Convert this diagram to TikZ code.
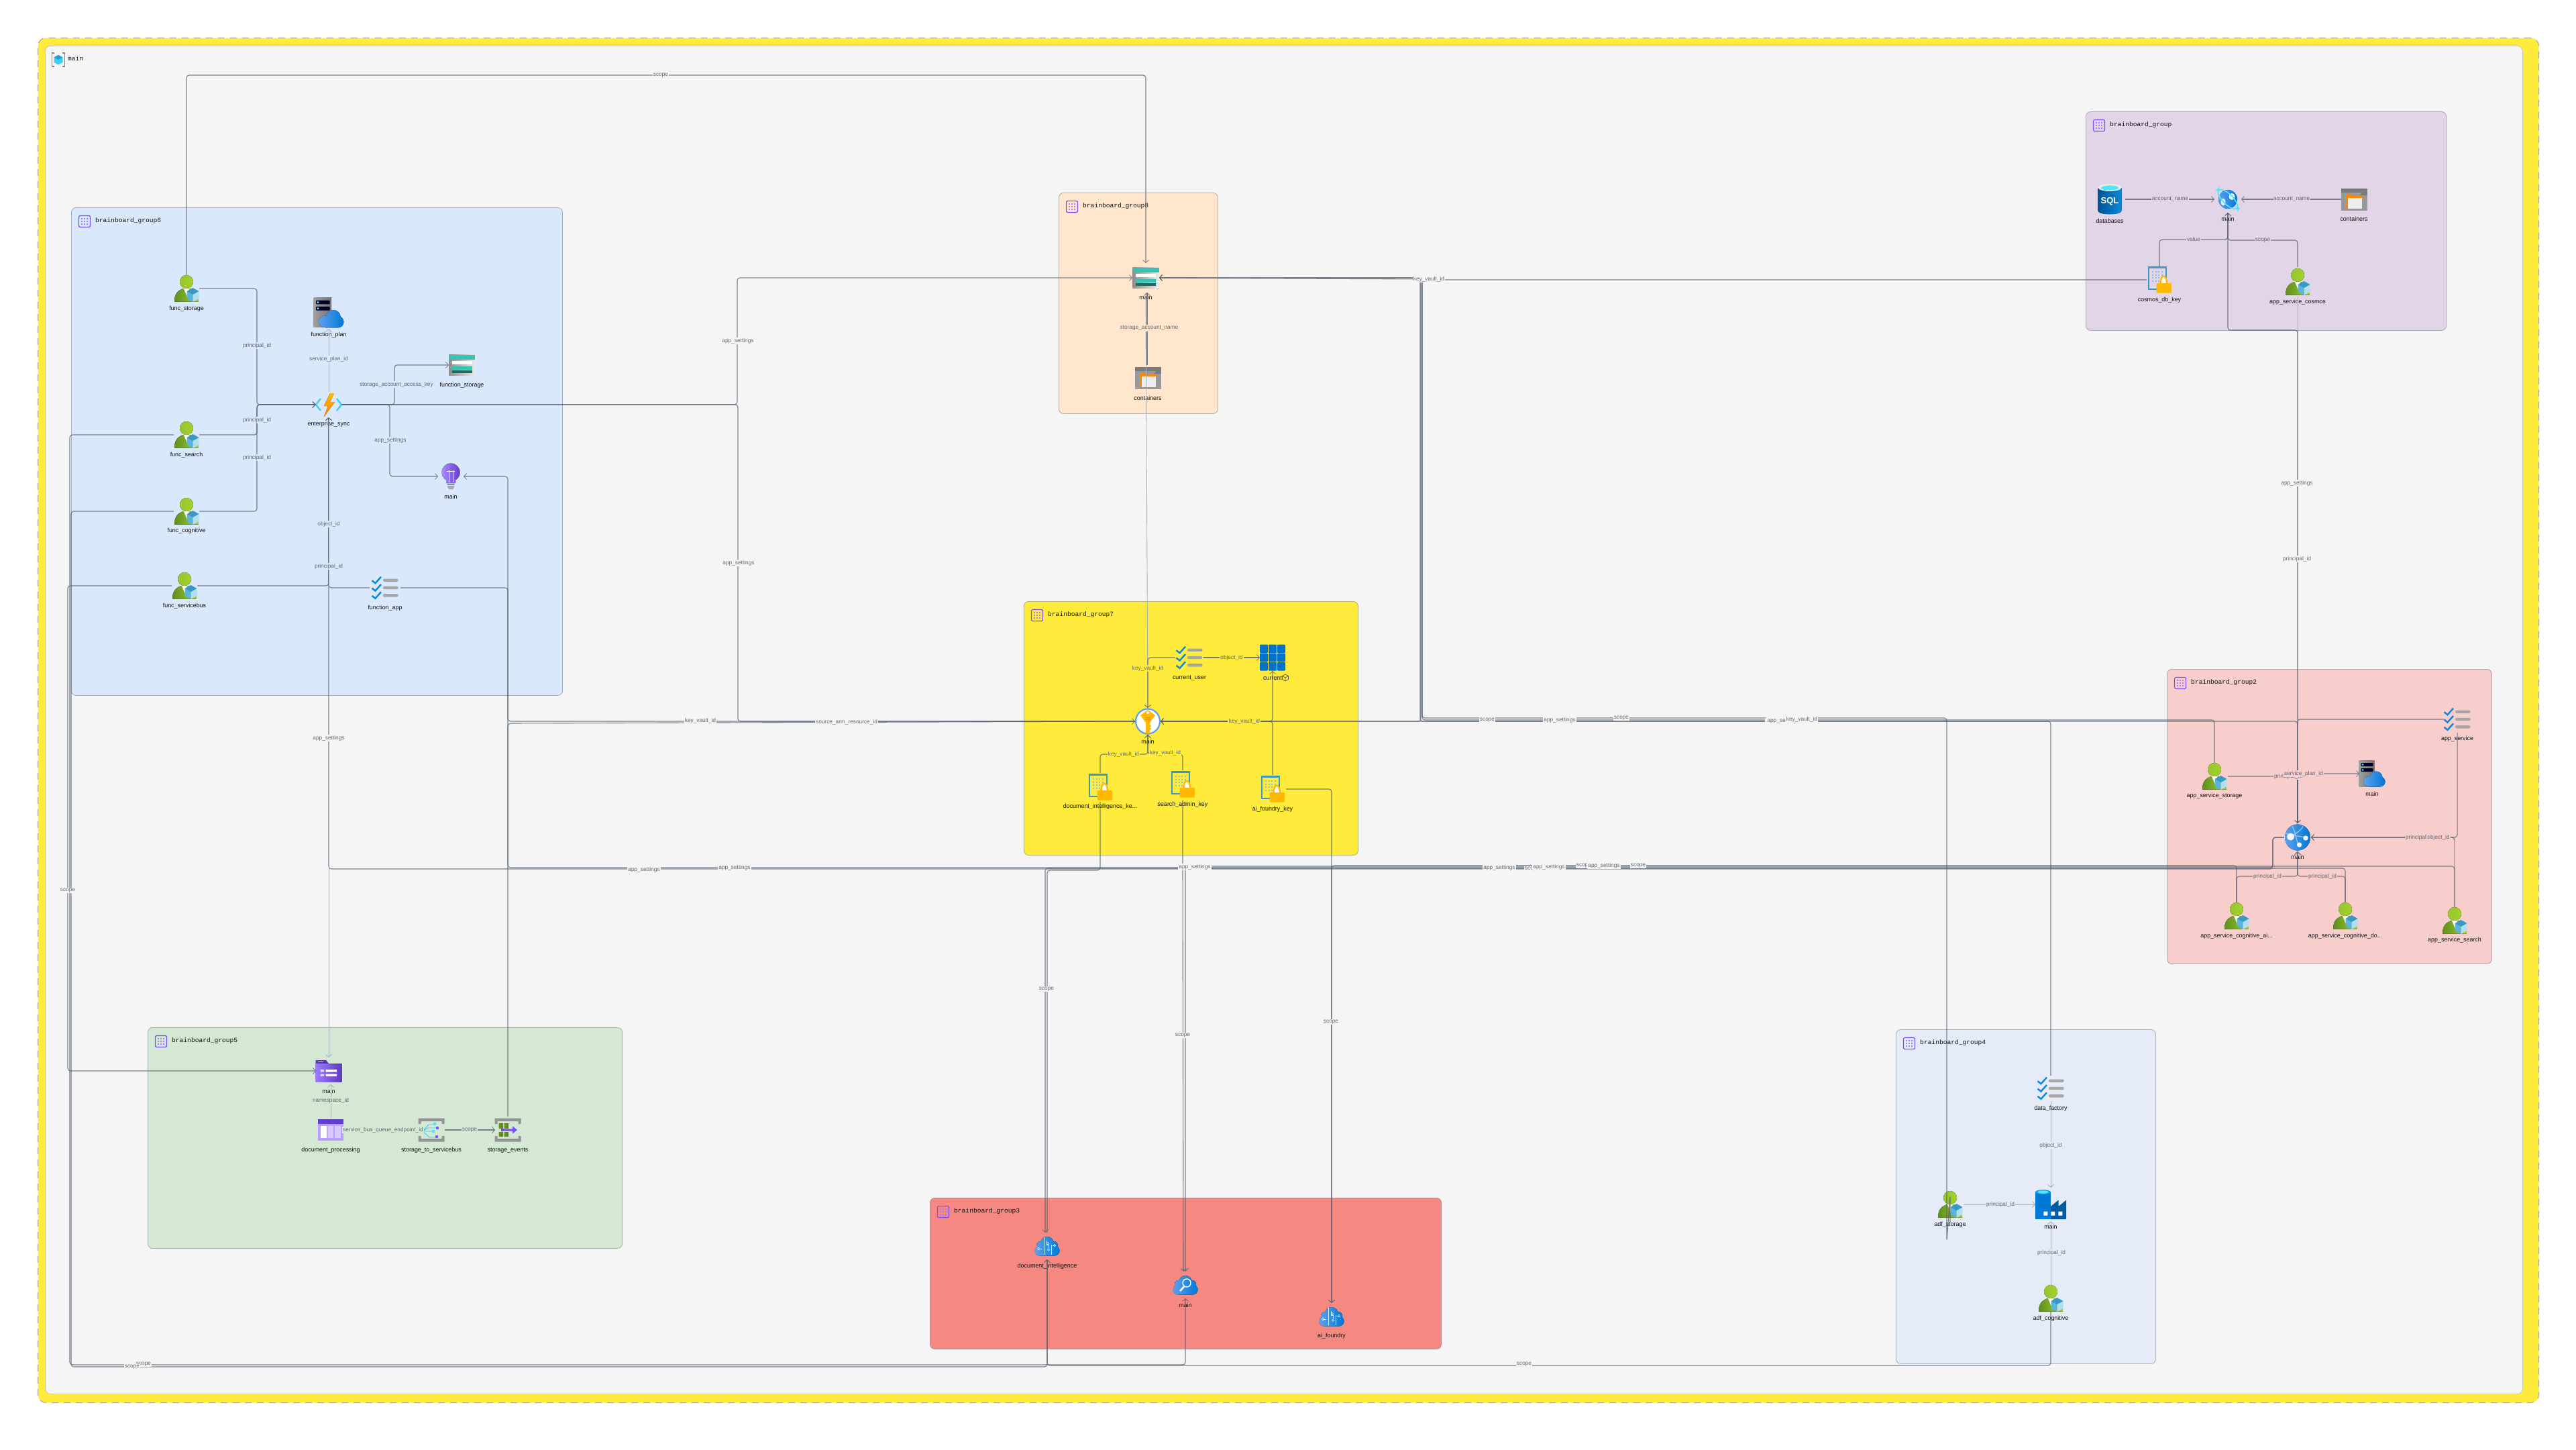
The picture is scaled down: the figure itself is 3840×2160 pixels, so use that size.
\documentclass[tikz,border=0pt]{standalone}
\usepackage{fontspec}
\setmainfont{Liberation Sans}
\setmonofont{Liberation Mono}
\usetikzlibrary{arrows.meta}
\definecolor{bgf}{HTML}{F5F5F5}
\definecolor{yel}{HTML}{FFEB3B}
\definecolor{gsix}{HTML}{DAE8FC}
\definecolor{geight}{HTML}{FFE6CC}
\definecolor{gseven}{HTML}{FFEB3B}
\definecolor{gfive}{HTML}{D5E8D4}
\definecolor{gthree}{HTML}{F58880}
\definecolor{gtwo}{HTML}{F8CECC}
\definecolor{gfour}{HTML}{E5ECF7}
\definecolor{gone}{HTML}{E1D5E7}
\definecolor{lnc}{HTML}{4F5B6B}
\definecolor{lnl}{HTML}{A3AEBB}
\definecolor{lbc}{HTML}{5F6773}
\definecolor{nmc}{HTML}{111111}
\definecolor{vio}{HTML}{7C4DFF}
\definecolor{azb}{HTML}{0078D4}
\definecolor{azl}{HTML}{5EA0EF}
\definecolor{cya}{HTML}{50E6FF}
\definecolor{amb}{HTML}{FFB900}
\definecolor{kvb}{HTML}{3999C6}
\definecolor{tl}{HTML}{37C2B1}
\definecolor{grm}{HTML}{A6A6A6}
\definecolor{pdk}{HTML}{5E8F1E}
\definecolor{plt}{HTML}{A2D02F}
\definecolor{cbl}{HTML}{5BB4DC}
\definecolor{cbp}{HTML}{B4DDEE}
\tikzset{
  grp/.style={draw=#1!78!black!45!lnl,line width=0.9pt,rounded corners=7pt,inner sep=0pt,anchor=north west},
  gtitle/.style={font=\fontsize{9.6}{11}\selectfont\ttfamily,text=nmc,anchor=west,inner sep=0pt},
  ibox/.style={inner sep=0pt,outer sep=0pt},
  nlab/.style={font=\fontsize{8.9}{10}\selectfont,text=nmc,inner sep=0pt},
  elabel/.style={font=\fontsize{8.3}{10}\selectfont,text=lbc,inner sep=1.2pt},
  cn/.style={draw=lnc,line width=1.1pt,draw opacity=.75,rounded corners=4pt,-{Straight Barb[length=4pt,width=9pt,line width=.8pt]}},
  cnn/.style={cn,-},
  cl/.style={draw=lnl,line width=.9pt,rounded corners=4pt,-{Straight Barb[length=4pt,width=9pt,line width=.8pt]}},
  cln/.style={cl,-},
}
% ---------- icons, drawn round (0,0) with y pointing down, 1 unit = 1 reference pixel
\newcommand{\icperson}{%
  \fill[left color=pdk,right color=plt] (-18,19.5) .. controls (-18,8) and (-13,3) .. (-5,0) -- (5,0) .. controls (13,3) and (18,8) .. (18,19.5) -- cycle;
  \fill[white] (-4.5,-1) -- (4.5,-1) -- (1,12) -- cycle;
  \fill[left color=plt!85!pdk,right color=plt] (0,-10) ellipse [x radius=10pt,y radius=10pt];
  \fill[cbl] (0.5,4) -- (9.5,9) -- (9.5,20) -- (0.5,15) -- cycle;
  \fill[cbp] (18.5,4) -- (9.5,9) -- (9.5,20) -- (18.5,15) -- cycle;
  \fill[kvb] (9.5,-1) -- (18.5,4) -- (9.5,9) -- (0.5,4) -- cycle;
}
\newcommand{\icchecks}{%
  \foreach \yy in {-11.3,0,11.3}{
    \draw[color=azb!85!cya,line width=2.4pt] (-19.5,\yy+.5) -- (-14.5,\yy+4.5) -- (-6,\yy-5);
    \fill[grm,rounded corners=1.5pt] (-3,\yy-2.2) rectangle (19.5,\yy+2.2);
  }
}
\newcommand{\ickey}{%
  \draw[kvb,line width=2.2pt] (-16,-18.5) rectangle (10,14);
  \foreach \xx in {-11,-6.5,-2,2.5}\foreach \yy in {-13,-8.5,-4,.5}{\fill[kvb!60!white] (\xx,\yy) rectangle ++(2.4,2.4);}
  \draw[amb,line width=2.4pt,fill=white] (1.5,6) .. controls (1.5,-9) and (11,-9) .. (11,6);
  \fill[amb,rounded corners=1.5pt] (-4.5,5) rectangle (18,19.7);
}
\newcommand{\icstorage}{%
  \fill[left color=grm!85!black,right color=white!92!black] (-19.5,-15.5) rectangle (19.5,15.5);
  \fill[tl] (-19.5,-15.5) rectangle (19.5,-8.5);
  \fill[white] (-15,-6) rectangle (15,-.8);
  \fill[tl] (-15,1.8) rectangle (15,6.6);
  \fill[tl!55!black] (-15,8) rectangle (15,12.2);
}
\newcommand{\iccontainers}{%
  \fill[grm!92!black] (-19.5,-16.5) rectangle (19.5,16.5);
  \fill[black!52] (-19.5,-16.5) rectangle (19.5,-10.5);
  \fill[black!52] (19.5,-16.5) -- (19.5,-6) -- (9,-6) -- (13,-10.5) -- cycle;
  \fill[orange!95!yellow] (-12,-8) -- (-4,-8) -- (-2,-5) -- (12,-5) -- (12,14) -- (-12,14) -- cycle;
  \fill[white!93!black] (-9.5,-2.5) rectangle (12,14);
}
\newcommand{\icplan}{%
  \fill[left color=black!38,right color=black!55] (-19.5,-19.5) rectangle (3.5,19);
  \foreach \yy in {-16,-8}{\fill[black!85!blue,rounded corners=1pt] (-16.5,\yy) rectangle (1.5,\yy+5);\fill[cya] (-14,\yy+2.5) circle[radius=1.5pt];}
  \fill[left color=azl,right color=azb] (-5,11.5) circle[radius=7.5pt] (6,6) circle[radius=9.5pt] (12,12) circle[radius=7.5pt] (-5,12) rectangle (12,19.5);
}
\newcommand{\icfunc}{%
  \draw[cya!80!azb,line width=2.4pt,line join=miter] (-12,-9) -- (-19,0) -- (-12,9);
  \draw[cya!80!azb,line width=2.4pt,line join=miter] (12,-9) -- (19,0) -- (12,9);
  \fill[top color=amb,bottom color=orange] (2,-17) -- (-7,2) -- (-1,2) -- (-7,18) -- (9,-4) -- (2,-4) -- (8,-17) -- cycle;
}
\newcommand{\icbulb}{%
  \fill[left color=vio!65!white,right color=vio!80!black] (0,-6) circle[radius=13.5pt] (-6.5,3) rectangle (6.5,10);
  \fill[black!45] (-5.5,11) rectangle (5.5,13) (-5,14.5) rectangle (5,16.5) (-3.5,17.5) rectangle (3.5,19);
  \draw[white,line width=1pt] (-3,-9) -- (-3,9) (3,-9) -- (3,9) (-6,-8) -- (6,-8);
}
\newcommand{\icfolder}{%
  \fill[vio!70!black] (-19.5,-16) -- (-4,-16) -- (0,-11) -- (0,0) -- (-19.5,0) -- cycle;
  \fill[left color=vio!75!white,right color=vio!75!black] (-19.5,-10.5) -- (19.5,-10.5) -- (19.5,16) -- (-19.5,16) -- cycle;
  \fill[white!70!vio] (-16,-14.5) rectangle (-8,-13);
  \fill[white!75!vio] (-12.5,-2) rectangle (-7,1.5) (-12.5,4.5) rectangle (-7,8);
  \fill[white] (-4.5,-2) rectangle (12,1.5) (-4.5,4.5) rectangle (12,8);
}
\newcommand{\icqueue}{%
  \fill[vio!55!white] (-19,-16) rectangle (19,16);
  \fill[vio!80!black] (-19,-16) rectangle (19,-8.7);
  \fill[white] (-15,-6) rectangle (-6,12);
  \fill[white!70!vio] (-4.5,-6) rectangle (4,12) (6,-6) rectangle (15,12);
}
\newcommand{\icbrackets}{%
  \fill[black!42] (-19.5,-17.5) rectangle (19.5,-13) (-19.5,-17.5) rectangle (-15.5,-9) (15.5,-17.5) rectangle (19.5,-9);
  \fill[black!42] (-19.5,13) rectangle (19.5,17.5) (-19.5,9) rectangle (-15.5,17.5) (15.5,9) rectangle (19.5,17.5);
}
\newcommand{\icnetwork}{%
  \icbrackets
  \draw[cya!75!azb,line width=.9pt] (-13,2) -- (-4,-8) -- (4,-8) (-13,2) -- (-5,-3) -- (8,-3) (-13,2) -- (-5,2) -- (3,2) (-13,2) -- (-3,11) -- (8,11);
  \fill[cya] (5,-9) circle[radius=2.6pt] (3,2) circle[radius=2.6pt];
  \fill[vio] (9,-3) circle[radius=2.2pt] (8,10) circle[radius=2.2pt];
}
\newcommand{\icevents}{%
  \icbrackets
  \fill[pdk] (-13.5,-10) rectangle (-7,-2) (-5.5,-10) rectangle (1,-2) (-13.5,3) rectangle (-7,10) (-5.5,3) rectangle (1,10);
  \fill[vio] (-8,-1.5) rectangle (7,1.5) (7,-5.5) -- (14,0) -- (7,5.5) -- cycle (-8,0) circle[radius=2.4pt];
}
\newcommand{\ickv}{%
  \fill[white] (0,0) ellipse [x radius=18pt,y radius=18.5pt];
  \draw[azl,line width=2.2pt] (0,0) ellipse [x radius=18pt,y radius=18.5pt];
  \fill[amb] (0,-17) -- (11,-9) -- (3,2) -- (3,5) -- (5,7) -- (3,9) -- (5,11) -- (3,13) -- (3,18) -- (-3,18) -- (-3,2) -- (-11,-9) -- cycle;
  \fill[white] (0,-13) circle[radius=2pt];
  \fill[orange] (-4,-6) rectangle (4,-5) (-4,-3.5) rectangle (4,-2.5);
}
\newcommand{\icgrid}{%
  \foreach \xx in {-19,-5.9,7.2}\foreach \yy in {-19.5,-6.3,6.9}{\fill[azb!95!black,rounded corners=1pt] (\xx,\yy) rectangle ++(11.8,12.6);}
}
\newcommand{\iccosmos}{%
  \fill[left color=azl,right color=azb] (0,0) circle[radius=14pt];
  \fill[white!90!azb] (-7,4) ellipse [x radius=3.5pt,y radius=5.5pt] (6,-4) ellipse [x radius=4.5pt,y radius=5pt];
  \draw[cya,line width=1.7pt,rotate=-45] (0,0) ellipse [x radius=19pt,y radius=7.5pt];
  \fill[cya] (-14,-19) -- (-12.5,-15) -- (-9,-14) -- (-12.5,-12.5) -- (-14,-9) -- (-15.5,-12.5) -- (-19,-14) -- (-15.5,-15) -- cycle;
  \fill[cya] (15,9) -- (16.2,13) -- (19,14) -- (16.2,15.2) -- (15,19) -- (13.8,15.2) -- (11,14) -- (13.8,13) -- cycle;
}
\newcommand{\icsql}{%
  \fill[left color=azb!70!black,right color=azb!85!cya] (-17.5,-17) -- (17.5,-17) -- (17.5,17) .. controls (17.5,24) and (-17.5,24) .. (-17.5,17) -- cycle;
  \fill[white!92!black] (0,-17.5) ellipse [x radius=17.5pt,y radius=5.5pt];
  \fill[cya] (0,-17) ellipse [x radius=13pt,y radius=3.6pt];
  \node[ibox,font=\bfseries\fontsize{13}{13}\selectfont,text=white] (sqlmark) at (0,3) {SQL};
}
\newcommand{\icglobe}{%
  \fill[left color=azl,right color=azb] (0,0) ellipse [x radius=19pt,y radius=19.5pt];
  \draw[white!55!azl,line width=1.2pt,opacity=.8] (-8,-17) .. controls (-2,-6) and (-2,8) .. (2,11) (-18,-6) .. controls (-6,-2) and (6,-2) .. (14,1) (8,-17) .. controls (6,-10) and (-6,-4) .. (-11,-1);
  \fill[white!95!azb] (-10.5,-1) circle[radius=5.5pt] (12,1) circle[radius=3.7pt] (2.5,11) circle[radius=3.7pt];
}
\newcommand{\icfactory}{%
  \fill[azb!75!black] (0,22) -- (0,3) -- (11.5,-6.5) -- (11.5,3) -- (23,-6.5) -- (23,22) -- cycle;
  \fill[azb] (-23,-18) rectangle (0,22);
  \fill[azb!70!cya] (-11.5,-18.5) ellipse [x radius=11.5pt,y radius=3.5pt];
  \fill[cya] (-11.5,-18.5) ellipse [x radius=8pt,y radius=2.2pt];
  \fill[white] (-10.7,10.5) rectangle ++(6,6) (.3,10.5) rectangle ++(6,6) (11.3,10.5) rectangle ++(6,6);
}
\newcommand{\iccloud}{%
  \fill[left color=azl,right color=azb] (-11,7) circle[radius=7.5pt] (11,7) circle[radius=7.5pt] (0,-4) circle[radius=10pt] (-10,-1) circle[radius=6pt] (10,-1) circle[radius=6pt] (-11,5) rectangle (11,14.5);
}
\newcommand{\iccog}{%
  \iccloud
  \draw[white!60!cya,line width=.6pt] (-5,-13) -- (-5,13) (6,-2) -- (6,13) (-1,-8) -- (-1,-2) -- (2,-2) -- (2,3) (-13,4) -- (-8,4) (8,-1) -- (11,-1);
  \draw[white!70!cya,line width=.6pt] (1,-4) circle[radius=1.8pt] (2,5.5) circle[radius=1.8pt] (-13,4) circle[radius=1.8pt] (11,-1) circle[radius=1.8pt];
}
\newcommand{\icsearch}{%
  \iccloud
  \draw[white,line width=1.4pt] (2,-3) circle[radius=6pt];
  \draw[white,line width=2.6pt] (-2,2.5) -- (-8,9);
}
\newcommand{\icmain}{%
  \draw[black!48,line width=1.3pt] (-6,-10) -- (-9.5,-10) -- (-9.5,10) -- (-6,10) (6,-10) -- (9.5,-10) -- (9.5,10) -- (6,10);
  \fill[cya!80!azb] (0,-7) -- (6.5,-3.5) -- (6.5,4) -- (0,7.5) -- (-6.5,4) -- (-6.5,-3.5) -- cycle;
  \fill[azb!65!cya] (0,-7) -- (6.5,-3.5) -- (0,0) -- (-6.5,-3.5) -- cycle;
}
\newcommand{\grpicon}[2]{%
  \begin{scope}[shift={(#1,#2)}]
    \draw[vio,line width=1.1pt,rounded corners=1.5pt] (-8.5,-8.5) rectangle (8.5,8.5);
    \foreach \xx in {-4,0,4}\foreach \yy in {-4,0,4}{\fill[vio!70!white] (\xx-.6,\yy-.6) rectangle (\xx+.6,\yy+.6);}
  \end{scope}}
\newcommand{\inode}[8]{%
  \begin{scope}[shift={(#2,#3)}]#6\end{scope}
  \node[ibox,minimum width=#4pt,minimum height=#5pt] (#1) at (#2,#3) {};
  \node[nlab] (#1-t) at (#2,#8+.6) {#7};}
\newcounter{elabn}
\newcommand{\elab}[4][bgf]{%
  \stepcounter{elabn}\node[elabel,fill=#1] (el\arabic{elabn}) at (#2,#3) {#4};}
\newcommand{\gnode}[7]{%
  \node[grp=#6,fill=#6,minimum width=#4pt,minimum height=#5pt] (#1) at (#2,#3) {};
  \grpicon{\the\numexpr#2+20\relax}{\the\numexpr#3+21\relax}
  \node[gtitle] (#1-t) at (\the\numexpr#2+36\relax,\the\numexpr#3+20\relax) {#7};}
\begin{document}
\begin{tikzpicture}[x=1pt,y=-1pt]
\useasboundingbox (0,0) rectangle (3840,2160);
\fill[white] (0,0) rectangle (3840,2160);
% frame
\node[draw=black!35,dashed,line width=1pt,dash pattern=on 10pt off 8pt,fill=yel,rounded corners=12pt,inner sep=0pt,minimum width=3728pt,minimum height=2034pt,anchor=north west] (frame) at (56,56) {};
\node[draw=black!22,line width=.8pt,fill=bgf,rounded corners=8pt,inner sep=0pt,minimum width=3693pt,minimum height=2009pt,anchor=north west] (inner) at (67,68) {};
\begin{scope}[shift={(87,89)}]\icmain\end{scope}
\node[gtitle] (main-t) at (101,87) {main};
% groups
\gnode{gsix}{106}{309}{732}{727}{gsix}{brainboard\_group6}
\gnode{gegt}{1578}{287}{237}{329}{geight}{brainboard\_group8}
\gnode{gsvn}{1526}{896}{498}{378}{gseven}{brainboard\_group7}
\gnode{gfiv}{220}{1531}{707}{329}{gfive}{brainboard\_group5}
\gnode{gthr}{1386}{1785}{762}{225}{gthree}{brainboard\_group3}
\gnode{gtwo}{3230}{997}{484}{439}{gtwo}{brainboard\_group2}
\gnode{gfou}{2826}{1534}{387}{498}{gfour}{brainboard\_group4}
\gnode{gone}{3109}{166}{537}{326}{gone}{brainboard\_group}
% resources: group 6
\inode{fstor}{278}{430}{38}{40}{\icperson}{func\_storage}{460}
\inode{fsearch}{278}{648}{38}{40}{\icperson}{func\_search}{678}
\inode{fcog}{278}{762}{38}{40}{\icperson}{func\_cognitive}{791}
\inode{fbus}{275}{873}{38}{40}{\icperson}{func\_servicebus}{903}
\inode{fplan}{490}{466}{46}{48}{\begin{scope}[scale=1.15]\icplan\end{scope}}{function\_plan}{499}
\inode{fstorage}{688.5}{544}{39}{36}{\icstorage}{function\_storage}{574}
\inode{esync}{490}{603}{39}{38}{\icfunc}{enterprise\_sync}{632}
\inode{insights}{672}{710}{38}{42}{\icbulb}{main}{740}
\inode{fapp}{574}{876}{46}{36}{\icchecks}{function\_app}{906}
% group 8
\inode{smain}{1708}{414}{40}{44}{\icstorage}{main}{443}
\inode{sconts}{1711}{563}{39}{38}{\iccontainers}{containers}{593}
% group 7
\inode{kv}{1711}{1075}{38}{40}{\ickv}{main}{1105}
\inode{curuser}{1773}{980}{42}{34}{\icchecks}{current\_user}{1010}
\inode{current}{1897}{980}{38}{40}{\icgrid}{current\hspace{14pt}}{1010}
\inode{dkey}{1640}{1173}{38}{42}{\ickey}{document\_intelligence\_ke...}{1202}
\inode{skey}{1763}{1169}{38}{42}{\ickey}{search\_admin\_key}{1199}
\inode{aifkey}{1897}{1176}{40}{42}{\ickey}{ai\_foundry\_key}{1206}
\begin{scope}[shift={(1916,1010)}]
  \draw[black!70,line width=.6pt] (0,-5) -- (4.5,-2.5) -- (4.5,2.5) -- (0,5) -- (-4.5,2.5) -- (-4.5,-2.5) -- cycle (-4.5,-2.5) -- (0,0) -- (4.5,-2.5) (0,0) -- (0,5);
\end{scope}
% group 5
\inode{sbmain}{490}{1596}{38}{40}{\icfolder}{main}{1626}
\inode{docproc}{493}{1684}{38}{38}{\icqueue}{document\_processing}{1714}
\inode{s2sb}{643}{1684}{40}{38}{\icnetwork}{storage\_to\_servicebus}{1714}
\inode{sevents}{757}{1684}{38}{40}{\icevents}{storage\_events}{1714}
% group 3
\inode{docai}{1561}{1857}{40}{40}{\iccog}{document\_intelligence}{1887}
\inode{search}{1767}{1915}{40}{40}{\icsearch}{main}{1945}
\inode{aifoundry}{1985}{1962}{40}{40}{\iccog}{ai\_foundry}{1991}
% group 4
\inode{adfstor}{2907}{1795}{40}{42}{\icperson}{adf\_storage}{1825}
\inode{factory}{3057}{1795}{46}{50}{\icfactory}{main}{1828}
\inode{dfapp}{3057}{1622}{42}{38}{\icchecks}{data\_factory}{1652}
\inode{adfcog}{3057}{1935}{38}{40}{\icperson}{adf\_cognitive}{1965}
% group 1
\inode{sql}{3145}{297}{46}{46}{\icsql}{databases}{329}
\inode{cosmos}{3321}{297}{40}{40}{\iccosmos}{main}{326}
\inode{cconts}{3509}{297}{38}{36}{\iccontainers}{containers}{326}
\inode{ckey}{3219}{417}{38}{40}{\ickey}{cosmos\_db\_key}{447}
\inode{ascos}{3425}{420}{38}{44}{\icperson}{app\_service\_cosmos}{450}
% group 2
\inode{appsvc}{3663}{1072}{40}{40}{\icchecks}{app\_service}{1101}
\inode{asstor}{3301}{1157}{40}{40}{\icperson}{app\_service\_storage}{1186}
\inode{plan}{3536}{1153}{38}{40}{\icplan}{main}{1183}
\inode{appmain}{3425}{1248}{40}{42}{\icglobe}{main}{1277}
\inode{casai}{3334}{1365}{38}{40}{\icperson}{app\_service\_cognitive\_ai...}{1395}
\inode{casdo}{3496}{1365}{38}{40}{\icperson}{app\_service\_cognitive\_do...}{1395}
\inode{assearch}{3659}{1372}{38}{40}{\icperson}{app\_service\_search}{1401}
% connectors: group 6
\draw[cn] (fstor.east) -- (383,430) -- (383,603) -- (esync.west);
\draw[cn] (fsearch.east) -- (383,648) -- (383,603) -- (esync.west);
\draw[cn] (fcog.east) -- (383,762) -- (383,603) -- (esync.west);
\draw[cn] (fbus.east) -- (490,873) -- (esync.south);
\draw[cn] (fapp.west) -- (490,876) -- (esync.south);
\draw[cl] (esync.north) -- (fplan.south);
\draw[cn] (esync.east) -- (588,603) -- (588,544) -- (fstorage.west);
\draw[cn] (esync.east) -- (581,603) -- (581,710) -- (insights.west);
\draw[cn] (esync.east) -- (1099,603) -- (1099,414) -- (smain.west);
\draw[cn] (esync.east) -- (1100,603) -- (1100,1075) -- (kv.west);
\draw[cn] (kv.west) -- (757,1075) -- (757,710) -- (insights.east);
\draw[cnn] (fapp.east) -- (757,876) -- (sevents.north);
% scope over the top
\draw[cn] (fstor.north) -- (278,112) -- (1708,112) -- (smain.north);
\draw[cl] (smain.south) -- (kv.north);
\draw[cn] ([xshift=-1]sconts.north) -- ([xshift=2]smain.south);
% group 7
\draw[cn] (curuser.east) -- (current.west);
\draw[cn] (curuser.west) -- (1711,980) -- (kv.north);
\draw[cn] (dkey.north) -- (1640,1124) -- (1711,1124) -- (kv.south);
\draw[cn] (skey.north) -- (1763,1124) -- (1711,1124) -- (kv.south);
\draw[cn] (aifkey.north) -- (1897,1075) -- (kv.east);
\draw[cn] (kv.east) -- (1897,1075) -- (current.south);
\draw[cnn] ([yshift=-1]dkey.south) -- (1640,1297) -- (1561,1297) -- (docai.north);
\draw[cn] (aifkey.east) -- (1985,1176) -- (aifoundry.north);
\draw[cn] ([yshift=-3]skey.south) -- (1763,1296) -- ([xshift=-3]search.north);
% upper bundle
\draw[cn] (ckey.west) -- (2118,417) -- (2118,1075) -- (kv.east);
\draw[cn] (appmain.north) -- (3425,1075) -- (2117,1075) -- (2117,414) -- (smain.east);
\draw[cn] (asstor.north) -- (3301,1073) -- (2120,1073) -- (2120,416) -- (smain.east);
\draw[cn] ([yshift=-6]adfstor.south) -- ([yshift=35]adfstor.south) -- (2902,1850) -- (2902,1070) -- (2120,1070) -- (2120,414) -- (smain.east);
\draw[cn] (dfapp.north) -- (3057,1075) -- (kv.east);
\draw[cn] (appsvc.west) -- (3425,1072) -- (appmain.north);
\draw[cl] (ascos.south) -- (appmain.north);
\draw[cn] (cosmos.south) -- (3321,492) -- (3425,492) -- (appmain.north);
% lower bundle
\draw[cnn] (appmain.west) -- (3388,1248) -- (3388,1293) -- (757,1293) -- (757,1078) -- (kv.west);
\draw[cn] (appmain.west) -- (3388,1248) -- (3388,1295) -- (490,1295) -- (esync.south);
\draw[cl] (esync.south) -- (sbmain.north);
\draw[cn] (casai.north) -- (3334,1290) -- (1985,1290) -- (aifoundry.north);
\draw[cn] (casdo.north) -- (3496,1294) -- (1558,1294) -- ([xshift=-3]docai.north);
\draw[cn] (assearch.north) -- (3659,1291) -- (1767,1291) -- (search.north);
% left and bottom
\draw[cn] (fsearch.west) -- (104,648) -- (104,2034) -- (1767,2034) -- (search.south);
\draw[cn] (fcog.west) -- (106,762) -- (106,2037) -- (1561,2037) -- (docai.south);
\draw[cn] (fbus.west) -- (101,873) -- (101,1596) -- (sbmain.west);
\draw[cn] (adfcog.south) -- (3057,2035) -- (1561,2035) -- (docai.south);
% group 5
\draw[cl] (docproc.north) -- ([xshift=3]sbmain.south);
\draw[cn] (s2sb.west) -- (docproc.east);
\draw[cn] (s2sb.east) -- (sevents.west);
% group 4
\draw[cl] (dfapp.south) -- (factory.north);
\draw[cl] (adfstor.east) -- (factory.west);
\draw[cl] (adfcog.north) -- (factory.south);
% group 1
\draw[cn] (sql.east) -- (cosmos.west);
\draw[cn] (cconts.west) -- (cosmos.east);
\draw[cn] (ckey.north) -- (3219,357) -- (3321,357) -- (cosmos.south);
\draw[cn] (ascos.north) -- (3425,358) -- (3321,358) -- (cosmos.south);
% group 2
\draw[cnn] (asstor.east) -- (3425,1157) -- (appmain.north);
\draw[cn] (appmain.north) -- (3425,1153) -- (plan.west);
\draw[cn] (appsvc.south) -- (3663,1248) -- (appmain.east);
\draw[cn] (assearch.north) -- (3659,1248) -- (appmain.east);
\draw[cn] (casai.north) -- (3334,1306) -- (3425,1306) -- (appmain.south);
\draw[cn] (casdo.north) -- (3496,1306) -- (3425,1306) -- (appmain.south);
% edge labels
\elab[gsix]{383}{515}{principal\_id}
\elab[gsix]{383}{626}{principal\_id}
\elab[gsix]{383}{682}{principal\_id}
\elab[gsix]{490}{844}{principal\_id}
\elab[gsix]{490}{781}{object\_id}
\elab[gsix]{490}{535}{service\_plan\_id}
\elab[gsix]{591}{573}{storage\_account\_access\_key}
\elab[gsix]{582}{656}{app\_settings}
\elab{1100}{508}{app\_settings}
\elab{1101}{839}{app\_settings}
\elab{490}{1100}{app\_settings}
\elab{985}{112}{scope}
\elab{1044}{1074}{key\_vault\_id}
\elab{1262}{1076}{source\_arm\_resource\_id}
\elab{960}{1296}{app\_settings}
\elab{1095}{1293}{app\_settings}
\elab{1781}{1292}{app\_settings}
\elab{101}{1327}{scope}
\elab{214}{2033}{scope}
\elab{197}{2037}{scope}
\elab{2272}{2033}{scope}
\elab{1560}{1474}{scope}
\elab{1763}{1543}{scope}
\elab{1984}{1523}{scope}
\elab[geight]{1713}{489}{storage\_account\_name}
\elab[gseven]{1711}{996}{key\_vault\_id}
\elab[gseven]{1836}{980}{object\_id}
\elab[gseven]{1675}{1124}{key\_vault\_id}
\elab[gseven]{1737}{1122}{key\_vault\_id}
\elab[gseven]{1854}{1074}{key\_vault\_id}
\elab[gseven]{1855}{1075}{key\_vault\_id}
\elab{2130}{416}{key\_vault\_id}
\elab{2217}{1073}{scope}
\elab{2325}{1073}{app\_settings}
\elab{2417}{1070}{scope}
\elab{2656}{1075}{app\_settings}
\elab{2658}{1074}{app\_settings}
\elab{2686}{1072}{key\_vault\_id}
\elab{2235}{1293}{app\_settings}
\elab{2284}{1295}{scope}
\elab{2309}{1292}{app\_settings}
\elab{2361}{1290}{scope}
\elab{2391}{1290}{app\_settings}
\elab{2442}{1290}{scope}
\elab[gfive]{493}{1640}{namespace\_id}
\elab[gfive]{571}{1684}{service\_bus\_queue\_endpoint\_id}
\elab[gfive]{700}{1684}{scope}
\elab[gfour]{2982}{1795}{principal\_id}
\elab[gfour]{3057}{1707}{object\_id}
\elab[gfour]{3058}{1867}{principal\_id}
\elab[gone]{3235}{297}{account\_name}
\elab[gone]{3416}{297}{account\_name}
\elab[gone]{3270}{357}{value}
\elab[gone]{3373}{358}{scope}
\elab{3424}{720}{app\_settings}
\elab{3424}{833}{principal\_id}
\elab[gtwo]{3411}{1157}{principal\_id}
\elab[gtwo]{3434}{1153}{service\_plan\_id}
\elab[gtwo]{3607}{1248}{principal\_id}
\elab[gtwo]{3635}{1248}{object\_id}
\elab[gtwo]{3380}{1306}{principal\_id}
\elab[gtwo]{3462}{1306}{principal\_id}
\end{tikzpicture}
\end{document}
